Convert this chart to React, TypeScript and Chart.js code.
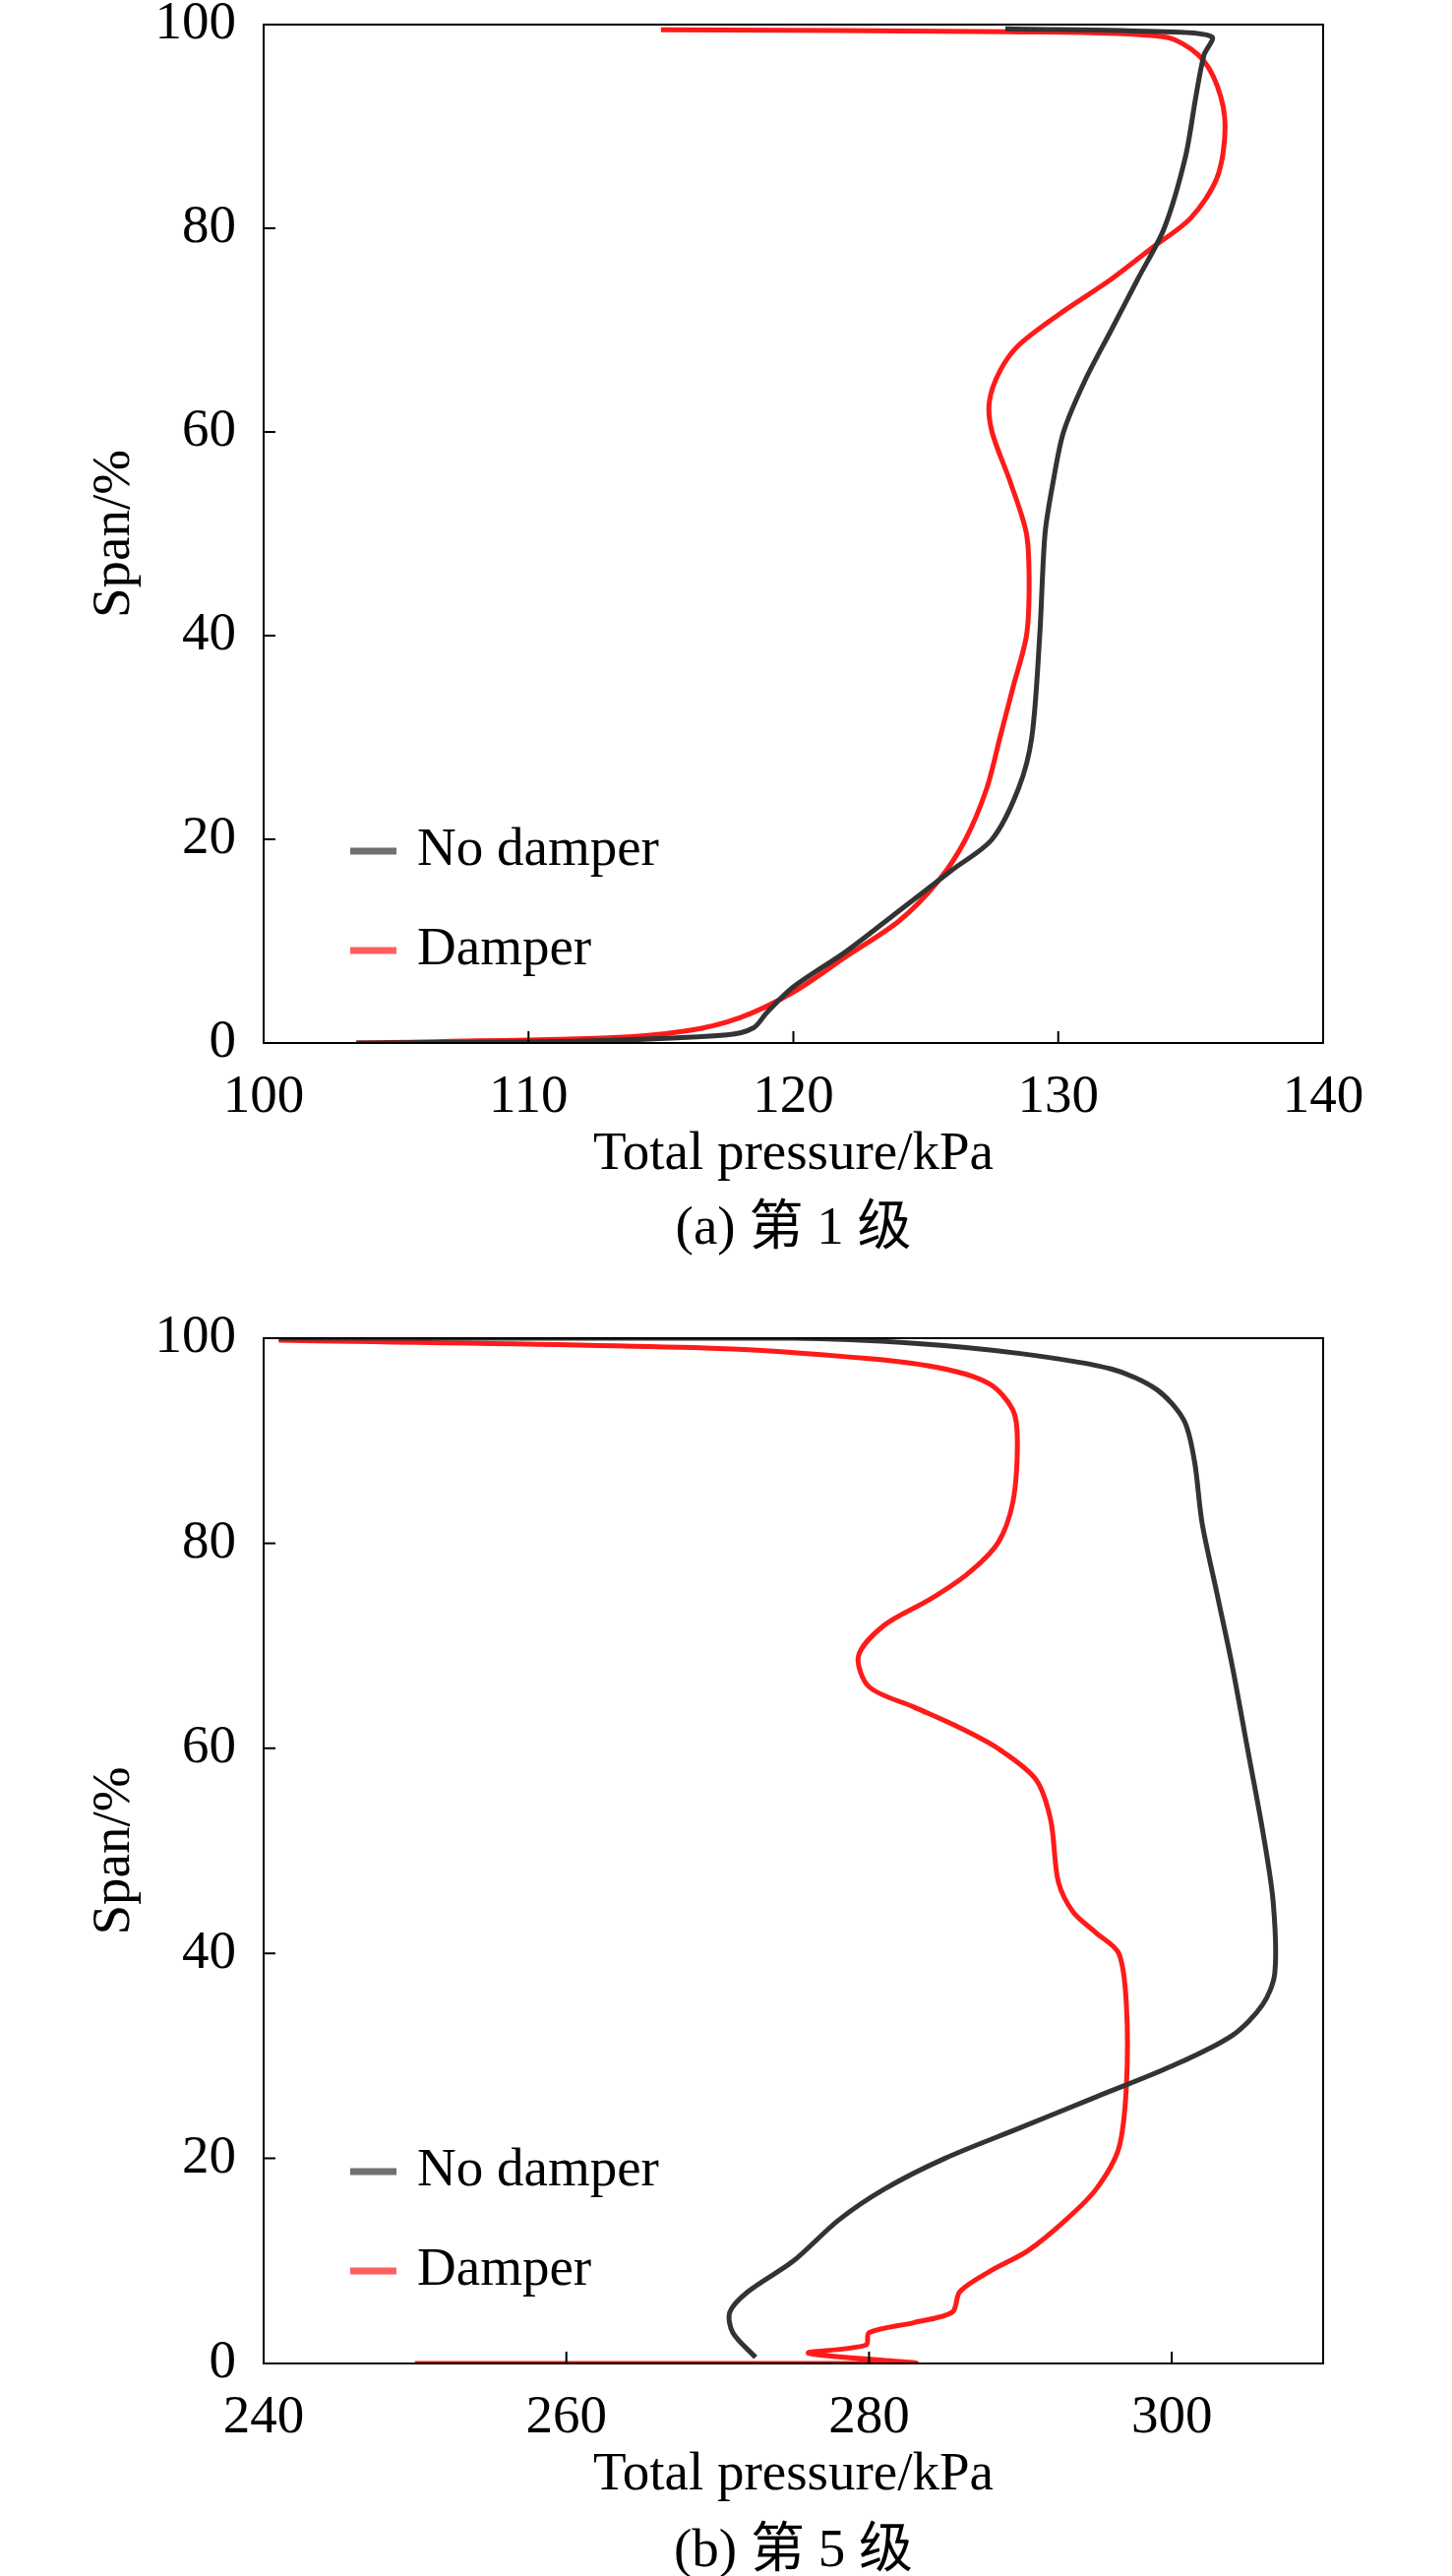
import React, { useEffect, useRef } from "react";
import { Chart, registerables } from "chart.js";
Chart.register(...registerables);

const FONT = "'Liberation Serif', 'Noto Sans CJK SC', serif";

const a_noDamper: [number, number][] = [[103.5,0],[112,0.2],[117.5,0.8],[118.5,1.5],[119,3],[120,5.5],[122,9],[124,13],[126,17],[127.5,20],[128.5,25],[129,30],[129.3,40],[129.5,50],[129.8,55],[130.2,60],[131,65],[132,70],[133,75],[134,80],[134.8,87],[135.2,93],[135.5,97],[135.8,98.8],[134,99.3],[128,99.6]];
const a_damper: [number, number][] = [[103.5,0],[113,0.5],[116,1.2],[118,2.5],[120,5],[122,8.5],[124,12],[125.5,16],[126.5,20],[127.3,25],[127.8,30],[128.3,35],[128.8,40],[128.9,45],[128.8,50],[128.2,55],[127.5,60],[127.4,63],[127.8,66],[128.5,68.5],[130,71.5],[132,75],[133.5,78],[135,81],[136,85],[136.3,90],[136,94],[135.3,97],[134,98.8],[128,99.3],[115,99.5]];
const b_noDamper: [number, number][] = [[272.5,0.6],[271,3],[270.8,5],[272,7],[275,10],[278,14],[281,17],[285,20],[290,23],[295,26],[300,29],[304,32],[306,35],[306.8,38],[306.7,45],[306,52],[305,60],[304,68],[303,75],[302,82],[301.5,88],[300.8,92],[299,95],[296,97],[290,98.5],[283,99.5],[275,100],[241,100]];
const b_damper: [number, number][] = [[250,0],[283,0],[276,1],[279.8,1.8],[280,3],[283,4],[285.5,5],[286,7],[288,9],[290.5,11],[293,14],[295,17],[296.5,21],[297,27],[297,35],[296.5,40],[295,42],[293.5,44],[292.5,47],[292,53],[291,57],[288.5,60],[286,62],[283,64],[280,66],[279.3,69],[281,72],[284,74.5],[286.5,77],[288.5,80],[289.5,84],[289.8,90],[289.5,93],[288,95.5],[285,97],[280,98],[270,99],[241,99.8]];

const seriesLabels = ["No damper", "Damper"];
const colors = ["#333333", "#ff1a1a"];

type Cfg = {
  top: number; height: number; plotTop: number; plotBottom: number;
  xmin: number; xmax: number; step: number; titleY: number; captionY: number;
  caption: string; legY: [number, number]; data: [number, number][][];
};

const cfgs: Cfg[] = [
  { top: -40, height: 1340, plotTop: 65, plotBottom: 1100, xmin: 100, xmax: 140, step: 10, titleY: 1214, captionY: 1290, caption: "(a) 第 1 级", legY: [905, 1006], data: [a_noDamper, a_damper] },
  { top: 1300, height: 1318, plotTop: 60, plotBottom: 1102, xmin: 240, xmax: 310, step: 20, titleY: 1216, captionY: 1294, caption: "(b) 第 5 级", legY: [907, 1008], data: [b_noDamper, b_damper] },
];

function Panel({ cfg }: { cfg: Cfg }) {
  const ref = useRef<HTMLCanvasElement>(null);
  useEffect(() => {
    const deco = {
      id: "deco",
      afterDraw(chart: any) {
        const ctx = chart.ctx;
        const ca = chart.chartArea;
        ctx.save();
        ctx.strokeStyle = "#000";
        ctx.lineWidth = 2;
        ctx.strokeRect(ca.left, ca.top, ca.right - ca.left, ca.bottom - ca.top);
        const xs = chart.scales.x, ys = chart.scales.y;
        ctx.beginPath();
        xs.ticks.forEach((t: any) => { const px = xs.getPixelForValue(t.value); ctx.moveTo(px, ca.bottom); ctx.lineTo(px, ca.bottom - 12); });
        ys.ticks.forEach((t: any) => { const py = ys.getPixelForValue(t.value); ctx.moveTo(ca.left, py); ctx.lineTo(ca.left + 12, py); });
        ctx.stroke();
        ctx.fillStyle = "#000";
        ctx.font = `55px ${FONT}`;
        ctx.textAlign = "center";
        ctx.textBaseline = "middle";
        const cx = (ca.left + ca.right) / 2;
        ctx.fillText("Total pressure/kPa", cx, cfg.titleY);
        ctx.fillText(cfg.caption, cx, cfg.captionY);
        ctx.save();
        ctx.translate(117, (ca.top + ca.bottom) / 2);
        ctx.rotate(-Math.PI / 2);
        ctx.fillText("Span/%", 0, 0);
        ctx.restore();
        ctx.textAlign = "left";
        seriesLabels.forEach((l, i) => {
          ctx.strokeStyle = colors[i];
          ctx.globalAlpha = 0.7;
          ctx.lineWidth = 7;
          ctx.beginPath();
          ctx.moveTo(356, cfg.legY[i]); ctx.lineTo(403, cfg.legY[i]);
          ctx.stroke();
          ctx.globalAlpha = 1;
          ctx.fillText(l, 424, cfg.legY[i]);
        });
        ctx.restore();
      },
    };
    const chart = new Chart(ref.current!, {
      type: "scatter",
      data: {
        datasets: cfg.data.map((d, i) => ({
          label: seriesLabels[i],
          data: d.map(([x, y]) => ({ x, y })),
          showLine: true,
          borderColor: colors[i],
          borderWidth: 5,
          pointRadius: 0,
          tension: 0.3,
        })),
      },
      options: {
        animation: false,
        responsive: false,
        maintainAspectRatio: false,
        layout: { padding: { top: cfg.plotTop, right: 131, left: 0, bottom: 0 } },
        plugins: { legend: { display: false }, tooltip: { enabled: false } },
        scales: {
          x: {
            type: "linear", min: cfg.xmin, max: cfg.xmax,
            grid: { display: false }, border: { display: false },
            ticks: { stepSize: cfg.step, color: "#000", padding: 15, font: { family: FONT, size: 55 }, maxRotation: 0,
              callback: (v: any) => (v % cfg.step === 0 ? String(v) : "") },
            afterFit: (s: any) => { s.height = cfg.height - cfg.plotBottom; },
          },
          y: {
            type: "linear", min: 0, max: 100,
            grid: { display: false }, border: { display: false },
            ticks: { stepSize: 20, color: "#000", padding: 20, font: { family: FONT, size: 55 } },
            afterFit: (s: any) => { s.width = 268; },
          },
        },
      } as any,
      plugins: [deco],
    });
    return () => chart.destroy();
  }, []);
  return (
    <canvas ref={ref} width={1476} height={cfg.height}
      style={{ position: "absolute", left: 0, top: cfg.top, width: 1476, height: cfg.height }} />
  );
}

export default function App() {
  return (
    <div style={{ position: "absolute", left: 0, top: 0, width: 1476, height: 2618, background: "#fff", overflow: "hidden" }}>
      {cfgs.map((c, i) => <Panel key={i} cfg={c} />)}
    </div>
  );
}
